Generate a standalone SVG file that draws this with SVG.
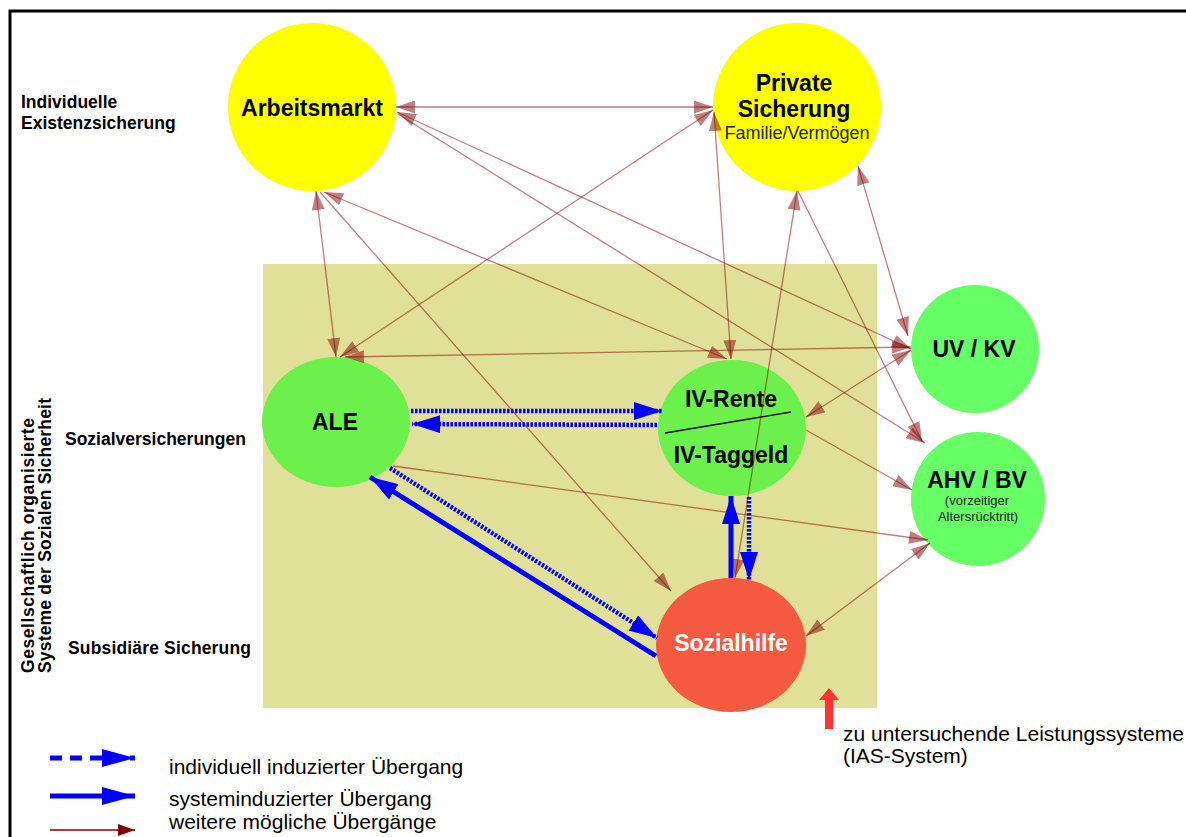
<svg xmlns="http://www.w3.org/2000/svg" width="1186" height="837" viewBox="0 0 1186 837">
<style>
text{font-family:"Liberation Sans",Arial,sans-serif;}
.nb{font-weight:bold;font-size:23px;text-anchor:middle;fill:#000;}
.lb{font-weight:bold;font-size:17.5px;fill:#000;}
.lg{font-size:21px;fill:#000;}
.c{fill:none;stroke:#800000;stroke-opacity:0.5;stroke-width:1.3;marker-end:url(#ar);}
.d{marker-start:url(#ar);}
.bs{fill:none;stroke:#0000ff;stroke-width:5;marker-end:url(#bl);}
.bd{fill:none;stroke:#0000ff;stroke-width:4.5;stroke-dasharray:2.5 1.5;marker-end:url(#bl);}
</style>
<defs>
<marker id="ar" viewBox="0 0 19 13" refX="19" refY="6.5" markerWidth="19" markerHeight="13" markerUnits="userSpaceOnUse" orient="auto-start-reverse"><path d="M0,0 L19,6.5 L0,13 z" fill="#800000" fill-opacity="0.5"/></marker>
<marker id="bl" viewBox="0 0 28 18" refX="28" refY="9" markerWidth="28" markerHeight="18" markerUnits="userSpaceOnUse" orient="auto"><path d="M0,0 L28,9 L0,18 z" fill="#0000ff"/></marker>
<marker id="bl2" viewBox="0 0 33 18" refX="33" refY="9" markerWidth="33" markerHeight="18" markerUnits="userSpaceOnUse" orient="auto"><path d="M0,0 L33,9 L0,18 z" fill="#0000ff"/></marker>
<marker id="dr" viewBox="0 0 17 12" refX="17" refY="6" markerWidth="17" markerHeight="12" markerUnits="userSpaceOnUse" orient="auto"><path d="M0,0 L17,6 L0,12 z" fill="#800000"/></marker>
</defs>
<rect width="1186" height="837" fill="#fff"/>
<path d="M10,837 V11 H1186" fill="none" stroke="#000" stroke-width="3"/>
<rect id="zone" x="263" y="264" width="614" height="444" fill="#e0e098"/>

<g id="labels">
<text class="lb" x="21" y="108">Individuelle</text>
<text class="lb" x="21" y="129">Existenzsicherung</text>
<text class="lb" x="65" y="445">Sozialversicherungen</text>
<text class="lb" x="68" y="654" textLength="183">Subsidiäre Sicherung</text>
<text class="lb" transform="translate(34,673) rotate(-90)" textLength="255">Gesellschaftlich organisierte</text>
<text class="lb" transform="translate(51,673) rotate(-90)" textLength="275">Systeme der Sozialen Sicherheit</text>
</g>

<g id="arbeitsmarkt">
<circle cx="312" cy="107" r="84" fill="#ffff00"/>
<text class="nb" x="312" y="116">Arbeitsmarkt</text>
</g>
<g id="private">
<circle cx="797" cy="107" r="84" fill="#ffff00"/>
<text class="nb" x="794" y="91">Private</text>
<text class="nb" x="794" y="117">Sicherung</text>
<text x="797" y="139" font-size="18" text-anchor="middle" fill="#222">Familie/Vermögen</text>
</g>
<g id="uvkv">
<circle cx="975" cy="349" r="64" fill="#66ff66"/>
<text class="nb" x="974" y="357">UV / KV</text>
</g>
<g id="ahvbv">
<circle cx="978" cy="499" r="67" fill="#66ff66"/>
<text class="nb" x="977" y="488">AHV / BV</text>
<text x="977" y="505" font-size="13" text-anchor="middle" fill="#222">(vorzeitiger</text>
<text x="978" y="521" font-size="13" text-anchor="middle" fill="#222">Altersrücktritt)</text>
</g>
<g id="ale">
<ellipse cx="336" cy="422" rx="74" ry="65" fill="#6cf04c"/>
<text class="nb" x="335" y="430">ALE</text>
</g>
<g id="iv">
<ellipse cx="732" cy="428" rx="74" ry="68" fill="#6cf04c"/>
<text class="nb" x="731" y="407">IV-Rente</text>
<text class="nb" x="731" y="463">IV-Taggeld</text>
<line x1="665" y1="433" x2="791" y2="412" stroke="#000" stroke-width="1.3"/>
</g>
<g id="sozialhilfe">
<ellipse cx="731" cy="645" rx="75" ry="67" fill="#f35a40"/>
<text class="nb" x="731" y="651" style="fill:#fff">Sozialhilfe</text>
</g>

<g id="connectors">
<path class="c d" d="M396,107 L713,107"/>
<path class="c d" d="M397,112 L911,349"/>
<path class="c" d="M398,114 L925,443"/>
<path class="c d" d="M316,191 L336,357"/>
<path class="c" d="M320,192 L671,591"/>
<path class="c d" d="M324,192 L727,359"/>
<path class="c d" d="M713,110 L340,357"/>
<path class="c d" d="M714,112 L731,359"/>
<path class="c d" d="M797,191 L735,578"/>
<path class="c" d="M798,191 L922,441"/>
<path class="c d" d="M858,166 L908,336"/>
<path class="c d" d="M345,357 L911,347"/>
<path class="c d" d="M806,417 L911,350"/>
<path class="c" d="M806,430 L912,490"/>
<path class="c" d="M393,466 L928,540"/>
<path class="c d" d="M806,636 L930,543"/>
<path class="bd" d="M411,411 L662,411"/>
<path class="bd" d="M657,425 L412,424"/>
<path class="bd" d="M390,468 L657,638"/>
<path class="bs" d="M656,656 L370,477"/>
<path class="bs" d="M731,578 L731,496"/>
<path class="bd" d="M749,497 L749,580"/>
</g>

<g id="ias">
<path d="M825,729 V700 H819 L829,688 L839,700 H833 V729 z" fill="#ff3333"/>
<text class="lg" x="843" y="741">zu untersuchende Leistungssysteme</text>
<text class="lg" x="843" y="763">(IAS-System)</text>
</g>

<g id="legend">
<path d="M50,758 H135" fill="none" stroke="#0000ff" stroke-width="5" stroke-dasharray="12 8" marker-end="url(#bl2)"/>
<path d="M50,796 H135" fill="none" stroke="#0000ff" stroke-width="5" marker-end="url(#bl2)"/>
<path d="M50,830 H135" fill="none" stroke="#800000" stroke-width="1.5" marker-end="url(#dr)"/>
<text class="lg" x="169" y="774">individuell induzierter Übergang</text>
<text class="lg" x="169" y="806">systeminduzierter Übergang</text>
<text class="lg" x="169" y="829">weitere mögliche Übergänge</text>
</g>
</svg>
